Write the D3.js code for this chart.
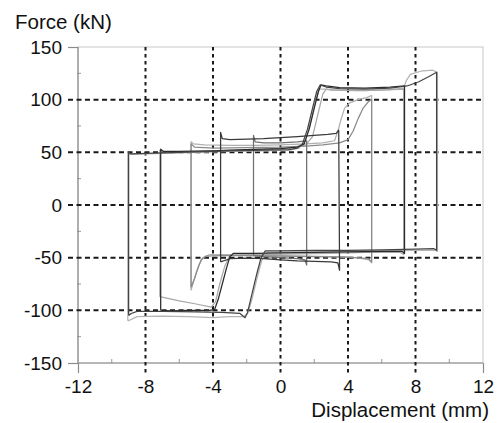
<!DOCTYPE html>
<html><head><meta charset="utf-8">
<script src="https://cdn.jsdelivr.net/npm/d3@7"></script>
<style>
html,body{margin:0;padding:0;background:#fff;}
svg text{font-family:"Liberation Sans",Arial,Helvetica,sans-serif;fill:#111;}
</style></head>
<body><svg id="c" width="499" height="423"></svg>
<script>
// ---- data ----
const xTicks = [-12, -8, -4, 0, 4, 8, 12];
const yTicks = [-150, -100, -50, 0, 50, 100, 150];
const xLabel = "Displacement (mm)";
const yLabel = "Force (kN)";

// hysteresis loops [displacement mm, force kN]
const loopA = [[-1.6,-48],[-1.6,66],[-1.5,60],[-1,59],[0,59],[1,60],[1.55,61],[1.55,-57],[1.45,-52],[1,-51],[0,-50],[-1,-49],[-1.6,-48]];
const loopB = [[-3.55,-54],[-3.55,69],[-3.45,63],[-3,62],[-2,62.5],[-1,63],[0,64],[1,65],[2,66],[2.8,67],[3.3,68],[3.45,71],[3.5,-62],[3.4,-55],[3,-54],[2,-53.5],[1,-53],[0,-52],[-1,-51],[-2,-50.5],[-3,-51],[-3.55,-54]];
const loopC = [[-5.3,-81],[-5.3,60],[-5.15,58],[-4.5,57],[-3,56.5],[-1.5,56.5],[0,57],[1.5,58],[2.5,59],[3.2,61],[3.4,70],[3.6,82],[3.8,92],[4.1,97],[4.6,100],[5.1,102],[5.4,104],[5.4,-55],[5.25,-52],[4.5,-50],[3,-49],[1.5,-48.5],[0,-48],[-1.5,-47.5],[-3,-47],[-4.2,-47],[-4.6,-50],[-4.8,-56],[-5.0,-65],[-5.2,-75],[-5.3,-81]];
const loopC2 = [[-5.3,-78],[-5.3,58],[-5.1,55],[-4,54],[-2,54.5],[0,55],[1.5,56],[2.5,57],[3.5,59],[4.0,62],[4.3,70],[4.6,82],[4.9,92],[5.2,98],[5.4,100],[5.4,-54],[5.2,-51],[4,-49.5],[2,-49],[0,-48.5],[-2,-48],[-3.5,-48],[-4.4,-48.5],[-4.7,-52],[-4.9,-60],[-5.1,-70],[-5.3,-78]];
const loopD = [[-7.1,-100],[-7.1,53],[-6.95,51],[-6,51],[-4,51.5],[-2,52.5],[0,53.5],[1,55],[1.4,58],[1.7,72],[2.0,92],[2.25,108],[2.4,114],[2.7,113],[3.5,111.5],[5,111],[6.5,112],[7.35,113],[7.35,-46],[7.2,-44],[6,-44],[4,-44.5],[2,-45],[0,-45.5],[-1.5,-46],[-2.8,-46],[-3.0,-49],[-3.2,-60],[-3.45,-75],[-3.7,-90],[-3.9,-99],[-4.2,-100],[-5.5,-100],[-6.5,-100.5],[-7.1,-100]];
const loopD2 = [[-7.15,-87],[-7.15,52],[-7,50.5],[-5,51],[-3,52],[-1,53],[0.5,54],[1.5,57],[1.9,65],[2.2,85],[2.5,105],[2.7,110],[3,109],[4.5,108.5],[6,109],[7.3,110],[7.3,-47],[7.1,-45],[5,-45],[3,-46],[1,-46.5],[-1,-47],[-2.5,-47],[-3.0,-48],[-3.3,-58],[-3.6,-75],[-3.85,-92],[-4.1,-97],[-5,-94],[-6,-91],[-7.15,-87]];
const loopE = [[-9.0,-105],[-9.0,50],[-8.85,48.5],[-7,49.5],[-5,50.5],[-3,51.5],[-1,52],[0.5,52.5],[1.0,54],[1.3,58],[1.6,72],[1.9,92],[2.15,108],[2.35,114],[2.7,112],[3.5,110.5],[5,110],[6.5,111],[7.5,113],[8.2,117],[8.8,122],[9.25,126],[9.25,-43],[9.1,-41.5],[8,-42],[6,-42.5],[4,-43],[2,-43],[0,-43.5],[-0.9,-43.5],[-1.15,-50],[-1.4,-65],[-1.7,-85],[-1.95,-102],[-2.1,-107],[-2.4,-103],[-3.5,-102],[-5,-101.5],[-7,-101],[-8.5,-101],[-8.85,-103],[-9.0,-105]];
const loopE2 = [[-9.05,-110],[-9.05,49],[-8.9,48],[-7,49],[-5,50],[-3,51],[-1,51.5],[0.5,52],[1.1,54],[1.5,62],[1.8,80],[2.1,100],[2.3,110],[2.6,110],[3.5,109],[5,108.5],[6.5,109.5],[7.3,111],[7.45,118],[7.7,124],[8.3,127],[9.0,128],[9.3,126],[9.3,-44],[9.15,-43],[8,-43],[6,-43.5],[4,-44],[2,-44.5],[0,-45],[-0.8,-45],[-1.1,-52],[-1.4,-70],[-1.7,-90],[-1.95,-103],[-2.2,-106],[-3,-106],[-4,-107],[-5.5,-106],[-7,-105.5],[-8.5,-106],[-8.9,-109],[-9.05,-110]];

const loops = [
  {d: loopE2, c: "#b4b4b4"},
  {d: loopD2, c: "#a8a8a8"},
  {d: loopC,  c: "#b0b0b0"},
  {d: loopC2, c: "#8a8a8a"},
  {d: loopA,  c: "#707070"},
  {d: loopB,  c: "#3a3a3a"},
  {d: loopD,  c: "#2a2a2a"},
  {d: loopE,  c: "#444"}
];

// ---- layout ----
const W = 499, H = 423;
const m = {l: 78, t: 47, r: 16, b: 60};
const iw = W - m.l - m.r, ih = H - m.t - m.b;
const svg = d3.select("#c");
const g = svg.append("g").attr("transform", `translate(${m.l},${m.t})`);
const x = d3.scaleLinear().domain([-12, 12]).range([0, iw]);
const y = d3.scaleLinear().domain([-150, 150]).range([ih, 0]);

// frame
g.append("rect").attr("x",0).attr("y",0).attr("width",iw).attr("height",ih)
  .attr("fill","none").attr("stroke","#c8c8c8").attr("stroke-width",1);

// minor ticks
const minorX = d3.range(-10, 12, 4);
const minorY = d3.range(-125, 150, 50);
g.selectAll(".mx").data(minorX).join("line")
  .attr("x1", d=>x(d)).attr("x2", d=>x(d)).attr("y1", ih).attr("y2", ih-4)
  .attr("stroke","#999");
g.selectAll(".my").data(minorY).join("line")
  .attr("x1", -1).attr("x2", 3).attr("y1", d=>y(d)).attr("y2", d=>y(d))
  .attr("stroke","#999");

// axes
const fmt = d => String(d);
const xAxis = d3.axisBottom(x).tickValues(xTicks).tickSize(10).tickPadding(7).tickFormat(fmt);
const yAxis = d3.axisLeft(y).tickValues(yTicks).tickSize(10).tickPadding(6).tickFormat(fmt);
const gx = g.append("g").attr("transform", `translate(0,${ih})`).call(xAxis);
const gy = g.append("g").call(yAxis);
[gx, gy].forEach(a => {
  a.select(".domain").attr("stroke","#8a8a8a").attr("stroke-width",1.2);
  a.selectAll(".tick line").attr("stroke","#8a8a8a").attr("stroke-width",1.2);
  a.selectAll(".tick text").style("font-size","19px").attr("fill","#111")
    .style("font-family",'"Liberation Sans",Arial,sans-serif');
});
gx.select(".domain").attr("d", `M0,0H${iw}`);
gy.select(".domain").attr("d", `M0,0V${ih}`);
gx.selectAll(".tick line").filter(d => Math.abs(d) < 12).remove();
gy.selectAll(".tick line").filter(d => Math.abs(d) < 150).remove();

// grid
const gridX = xTicks.filter(d => Math.abs(d) < 12);
const gridY = yTicks.filter(d => Math.abs(d) < 150);
g.selectAll(".gx").data(gridX).join("line")
  .attr("x1", d=>x(d)).attr("x2", d=>x(d)).attr("y1", 0).attr("y2", ih+10)
  .attr("stroke","#1a1a1a").attr("stroke-width",2).attr("stroke-dasharray","3.5,3.5");
g.selectAll(".gy").data(gridY).join("line")
  .attr("x1", -10).attr("x2", iw).attr("y1", d=>y(d)).attr("y2", d=>y(d))
  .attr("stroke","#1a1a1a").attr("stroke-width",2).attr("stroke-dasharray","5,3.5");

// loops
const line = d3.line().x(d=>x(d[0])).y(d=>y(d[1])).curve(d3.curveLinear);
g.selectAll(".loop").data(loops).join("path")
  .attr("d", d=>line(d.d)).attr("fill","none").attr("stroke", d=>d.c)
  .attr("stroke-width",1.25).attr("stroke-linejoin","round");

// labels
svg.append("text").attr("x", 15).attr("y", 29).style("font-size","20.5px").text(yLabel);
svg.append("text").attr("x", 489).attr("y", 417).attr("text-anchor","end").style("font-size","20.5px").text(xLabel);
</script></body></html>
